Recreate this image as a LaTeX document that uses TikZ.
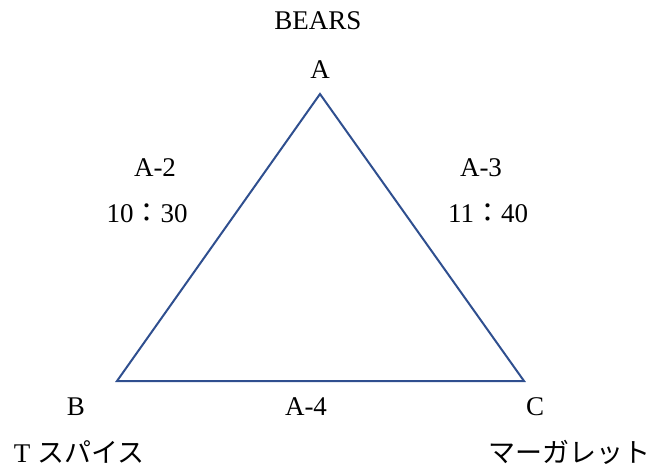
\documentclass[tikz,border=0pt]{standalone}
\usepackage{fontspec}
\setmainfont{Liberation Serif}
\newfontfamily\jpfont{Noto Sans CJK JP}
\usetikzlibrary{positioning}
\definecolor{trblue}{HTML}{2F4F8F}

\begin{document}
\begin{tikzpicture}[x=1pt, y=-1pt]

\tikzset{
  lbl/.style={font=\fontsize{27}{32}\selectfont, inner sep=0pt},
  edge/.style={trblue, line width=2pt, line join=miter}
}

% Frame
\useasboundingbox (0,0) rectangle (651,468);

% Corners
\coordinate (A) at (320,94);
\coordinate (B) at (117,381);
\coordinate (C) at (524,381);

\draw[edge] (A) -- (B) -- (C) -- cycle;

% Vertex labels
\node[lbl] (bears) at (318,21) {BEARS};
\node[lbl] (la) at (320,70) {A};
\node[lbl] (lb) at (76,407) {B};
\node[lbl] (lc) at (535,407) {C};
\node[lbl] (tsp) at (79,452) {T {\jpfont スパイス}};
\node[lbl] (mrg) at (569,452) {\jpfont マーガレット};

% Side labels
\node[lbl] (ab) at (155,168) {A-2};
\node[lbl] (abt) at (147,213) {10{\jpfont ：}30};
\node[lbl] (ac) at (481,168) {A-3};
\node[lbl] (act) at (488,213) {11{\jpfont ：}40};
\node[lbl] (bc) at (306,407) {A-4};

\end{tikzpicture}
\end{document}
